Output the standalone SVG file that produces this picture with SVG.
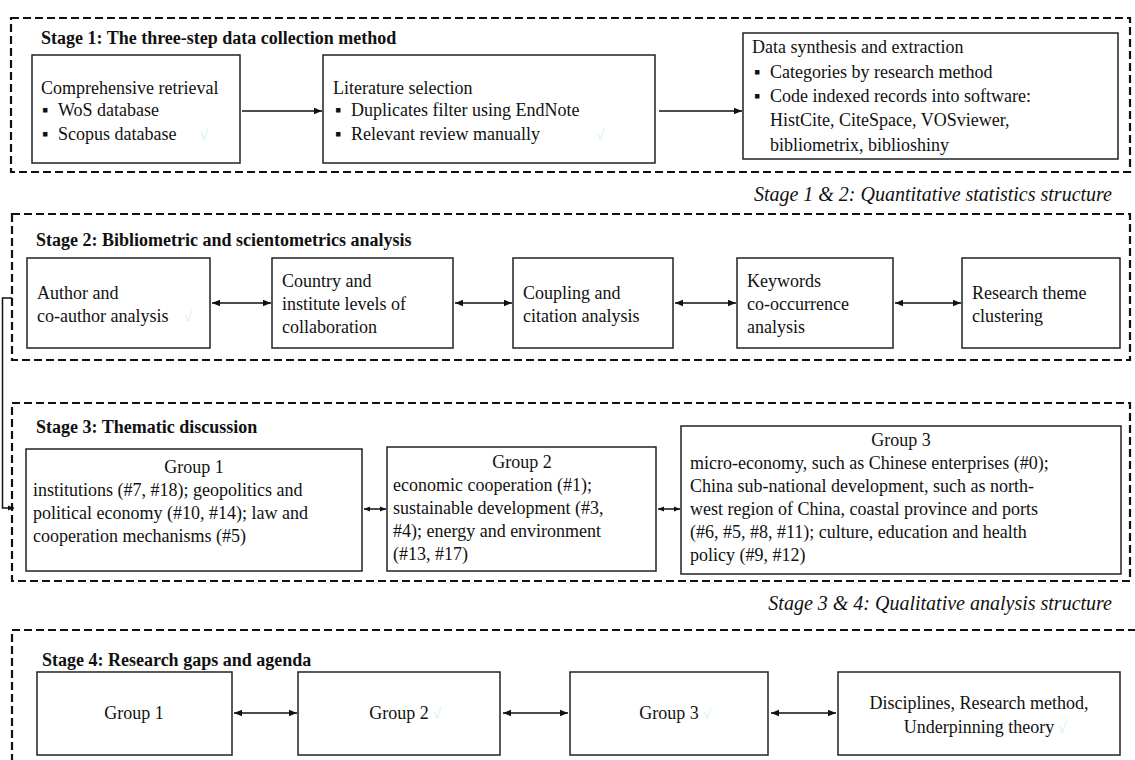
<svg xmlns="http://www.w3.org/2000/svg" width="1135" height="760" viewBox="0 0 1135 760">
<style>
text{font-family:"Liberation Serif","Times New Roman",serif;font-size:18px;fill:#111}
.t{font-weight:bold}
.cap{font-style:italic;text-anchor:end;font-size:20px}
.c{text-anchor:middle}
.stage{fill:none;stroke:#111;stroke-width:2.2;stroke-dasharray:8 4}
.box{fill:#fff;stroke:#222;stroke-width:1.5}
.ln{fill:none;stroke:#111;stroke-width:1.5}
.ck{fill:#cdeef3;font-size:15px}
</style>
<defs>
<marker id="ah" viewBox="0 0 10 10" refX="10" refY="5" markerWidth="8" markerHeight="8" markerUnits="userSpaceOnUse" orient="auto-start-reverse"><path d="M0,1 L10,5 L0,9 z" fill="#111"/></marker>
<marker id="as" viewBox="0 0 10 10" refX="10" refY="5" markerWidth="6" markerHeight="6" markerUnits="userSpaceOnUse" orient="auto-start-reverse"><path d="M0,1 L10,5 L0,9 z" fill="#111"/></marker>
</defs>
<rect width="1135" height="760" fill="#fff"/>

<g id="stage1">
<rect class="stage" x="11" y="18" width="1119" height="154"/>
<text class="t" x="41" y="44">Stage 1: The three-step data collection method</text>
</g>
<g id="retrieval">
<rect class="box" x="32" y="55" width="208" height="108"/>
<text x="41" y="94">Comprehensive retrieval</text>
<text x="42" y="116">▪</text><text x="58" y="116">WoS database</text>
<text x="42" y="140">▪</text><text x="58" y="140">Scopus database</text>
<text class="ck" x="200" y="140">√</text>
</g>
<g id="selection">
<rect class="box" x="323" y="55" width="332" height="108"/>
<text x="333" y="94">Literature selection</text>
<text x="335" y="116">▪</text><text x="351" y="116">Duplicates filter using EndNote</text>
<text x="335" y="140">▪</text><text x="351" y="140">Relevant review manually</text>
<text class="ck" x="596" y="140">√</text>
</g>
<g id="synthesis">
<rect class="box" x="743" y="33" width="375" height="126"/>
<text x="752" y="53">Data synthesis and extraction</text>
<text x="754" y="78">▪</text><text x="770" y="78">Categories by research method</text>
<text x="754" y="102">▪</text><text x="770" y="102">Code indexed records into software:</text>
<text x="770" y="126">HistCite, CiteSpace, VOSviewer,</text>
<text x="770" y="151">bibliometrix, biblioshiny</text>
</g>
<text class="cap" x="1112" y="201">Stage 1 &amp; 2: Quantitative statistics structure</text>

<g id="stage2">
<rect class="stage" x="12" y="214" width="1118" height="146"/>
<text class="t" x="36" y="246">Stage 2: Bibliometric and scientometrics analysis</text>
</g>
<g id="author">
<rect class="box" x="27" y="258" width="183" height="90"/>
<text x="37" y="299">Author and</text>
<text x="37" y="322">co-author analysis</text>
<text class="ck" x="184" y="322">√</text>
</g>
<g id="country">
<rect class="box" x="272" y="258" width="181" height="90"/>
<text x="282" y="287">Country and</text>
<text x="282" y="310">institute levels of</text>
<text x="282" y="333">collaboration</text>
</g>
<g id="coupling">
<rect class="box" x="513" y="258" width="160" height="90"/>
<text x="523" y="299">Coupling and</text>
<text x="523" y="322">citation analysis</text>
</g>
<g id="keywords">
<rect class="box" x="737" y="258" width="156" height="90"/>
<text x="747" y="287">Keywords</text>
<text x="747" y="310">co-occurrence</text>
<text x="747" y="333">analysis</text>
</g>
<g id="theme">
<rect class="box" x="962" y="258" width="158" height="90"/>
<text x="972" y="299">Research theme</text>
<text x="972" y="322">clustering</text>
</g>

<g id="stage3">
<rect class="stage" x="12" y="403" width="1118" height="178"/>
<text class="t" x="36" y="433">Stage 3: Thematic discussion</text>
</g>
<g id="s3g1">
<rect class="box" x="26" y="449" width="336" height="122"/>
<text class="c" x="194" y="473">Group 1</text>
<text x="33" y="496">institutions (#7, #18); geopolitics and</text>
<text x="33" y="519">political economy (#10, #14); law and</text>
<text x="33" y="542">cooperation mechanisms (#5)</text>
</g>
<g id="s3g2">
<rect class="box" x="387" y="447" width="269" height="124"/>
<text class="c" x="522" y="468">Group 2</text>
<text x="393" y="491">economic cooperation (#1);</text>
<text x="393" y="514">sustainable development (#3,</text>
<text x="393" y="537">#4); energy and environment</text>
<text x="393" y="560">(#13, #17)</text>
</g>
<g id="s3g3">
<rect class="box" x="681" y="426" width="440" height="148"/>
<text class="c" x="901" y="446">Group 3</text>
<text x="690" y="469">micro-economy, such as Chinese enterprises (#0);</text>
<text x="690" y="492">China sub-national development, such as north-</text>
<text x="690" y="515">west region of China, coastal province and ports</text>
<text x="690" y="538">(#6, #5, #8, #11); culture, education and health</text>
<text x="690" y="561">policy (#9, #12)</text>
</g>
<text class="cap" x="1112" y="610">Stage 3 &amp; 4: Qualitative analysis structure</text>

<g id="stage4">
<rect class="stage" x="12" y="630" width="1130" height="160"/>
<text class="t" x="42" y="666">Stage 4: Research gaps and agenda</text>
</g>
<g id="s4g1">
<rect class="box" x="37" y="672" width="195" height="83"/>
<text class="c" x="134" y="719">Group 1</text>
</g>
<g id="s4g2">
<rect class="box" x="298" y="672" width="202" height="83"/>
<text class="c" x="399" y="719">Group 2</text>
<text class="ck" x="433" y="719">√</text>
</g>
<g id="s4g3">
<rect class="box" x="570" y="672" width="198" height="83"/>
<text class="c" x="669" y="719">Group 3</text>
<text class="ck" x="703" y="719">√</text>
</g>
<g id="s4d">
<rect class="box" x="838" y="672" width="282" height="83"/>
<text class="c" x="979" y="709">Disciplines, Research method,</text>
<text class="c" x="979" y="733">Underpinning theory</text>
<text class="ck" x="1058" y="733">√</text>
</g>

<g id="connectors">
<line class="ln" x1="242" y1="111" x2="322" y2="111" marker-end="url(#ah)"/>
<line class="ln" x1="659" y1="111" x2="742" y2="111" marker-end="url(#ah)"/>
<line class="ln" x1="212" y1="303" x2="271" y2="303" marker-start="url(#ah)" marker-end="url(#ah)"/>
<line class="ln" x1="455" y1="303" x2="512" y2="303" marker-start="url(#ah)" marker-end="url(#ah)"/>
<line class="ln" x1="675" y1="303" x2="736" y2="303" marker-start="url(#ah)" marker-end="url(#ah)"/>
<line class="ln" x1="895" y1="303" x2="961" y2="303" marker-start="url(#ah)" marker-end="url(#ah)"/>
<path class="ln" d="M12,298 H2.5 V508 H14" marker-end="url(#as)"/>
<line class="ln" x1="364" y1="509" x2="386" y2="509" marker-start="url(#as)" marker-end="url(#as)"/>
<line class="ln" x1="658" y1="509" x2="680" y2="509" marker-start="url(#as)" marker-end="url(#as)"/>
<line class="ln" x1="234" y1="713" x2="297" y2="713" marker-start="url(#ah)" marker-end="url(#ah)"/>
<line class="ln" x1="503" y1="713" x2="568" y2="713" marker-start="url(#ah)" marker-end="url(#ah)"/>
<line class="ln" x1="771" y1="713" x2="836" y2="713" marker-start="url(#ah)" marker-end="url(#ah)"/>
</g>
</svg>
